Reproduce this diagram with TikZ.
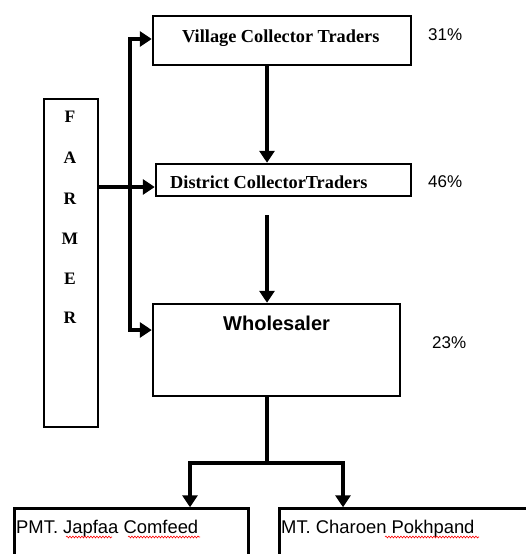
\documentclass[tikz,border=0pt]{standalone}
\usepackage{fontspec}
\setmainfont{Liberation Serif}
\setsansfont{Liberation Sans}
\usetikzlibrary{arrows.meta,decorations.pathmorphing}
\begin{document}
\begin{tikzpicture}[x=1pt,y=-1pt,
  box/.style={draw,line width=2.5pt,inner sep=0pt},
  flow/.style={line width=4pt,-{Triangle[width=15pt,length=12pt]}},
  plain/.style={line width=4pt},
  txt/.style={inner sep=0pt,anchor=base west},
  serifb/.style={font=\fontsize{18.3}{20}\selectfont\bfseries},
  letter/.style={inner sep=0pt,font=\fontsize{17.5}{20}\selectfont\bfseries},
  pct/.style={txt,font=\sffamily\fontsize{17}{20}\selectfont},
  sanstxt/.style={txt,font=\sffamily\fontsize{18.4}{20}\selectfont},
  wave/.style={red,line width=0.6pt,decorate,decoration={snake,amplitude=0.9pt,segment length=3pt}}]
\path[use as bounding box, clip] (0,0) rectangle (526,554);

% boxes
\node[box,minimum width=258pt,minimum height=49pt] (village) at (282,40.5) {};
\node[box,minimum width=255pt,minimum height=32pt] (district) at (283.5,180) {};
\node[box,minimum width=247pt,minimum height=92pt] (wholesaler) at (276.5,350) {};
\node[box,minimum width=54pt,minimum height=328pt] (farmer) at (71,263) {};
\node[box,minimum width=234pt,minimum height=100pt] (b1) at (131.5,558.5) {};
\node[box,minimum width=261pt,minimum height=100pt] (b2) at (410,558.5) {};

% texts
\node[txt,serifb] (vtext) at (182,42.3) {Village Collector Traders};
\node[txt,serifb] (dtext) at (170,188.3) {District CollectorTraders};
\node[txt,font=\sffamily\bfseries\fontsize{20}{22}\selectfont] (wtext) at (223,330) {Wholesaler};
\node[pct] (p1) at (428,40.7) {31\%};
\node[pct] (p2) at (428,187.3) {46\%};
\node[pct] (p3) at (432,348.3) {23\%};
\node[sanstxt] (t1) at (16,533.3) {PMT. Japfaa Comfeed};
\node[sanstxt] (t2) at (281,533.3) {MT. Charoen Pokhpand};
\foreach \l/\y [count=\i] in {F/117,A/158,R/199,M/239,E/279,R/318}
  \node[letter] (f\i) at (70,\y) {\l};

% spell-check underlines
\draw[wave] (66,537) -- (112,537);
\draw[wave] (128,537) -- (200,537);
\draw[wave] (385,537) -- (479,537);

% connectors
\coordinate (j) at (130,187);
\coordinate (wl) at (130,330);
\coordinate (vl) at (130,39);
\draw[flow] (farmer.east |- j) -- (district.west |- j);
\draw[flow] (j) |- (village.west |- vl);
\draw[flow] (j) |- (wholesaler.west |- wl);

\coordinate (c1) at (267,0);
\draw[flow] (village.south -| c1) -- (district.north -| c1);
\coordinate (c2) at (267,215);
\draw[flow] (c2) -- (wholesaler.north -| c2);

\coordinate (split) at (267,463);
\coordinate (la) at (190,463);
\coordinate (ra) at (343,463);
\draw[plain] (wholesaler.south -| split) -- (split);
\draw[flow] (split) -| (b1.north -| la);
\draw[flow] (split) -| (b2.north -| ra);
\end{tikzpicture}
\end{document}
